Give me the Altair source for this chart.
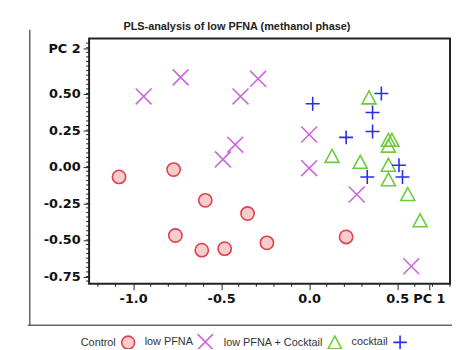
import altair as alt
import pandas as pd

# ---- data ----
groups = ["Control", "low PFNA", "low PFNA + Cocktail", "cocktail"]

control_x = [-1.08, -0.77, -0.59, -0.35, -0.76, -0.61, -0.48, -0.24, 0.21]
control_y = [-0.07, -0.02, -0.23, -0.32, -0.47, -0.57, -0.56, -0.52, -0.48]

pfna_x = [-0.94, -0.73, -0.39, -0.29, -0.42, -0.49, 0.00, 0.00, 0.27, 0.58]
pfna_y = [0.48, 0.61, 0.48, 0.60, 0.15, 0.05, 0.22, -0.01, -0.19, -0.68]

pfna_cocktail_x = [0.34, 0.45, 0.47, 0.45, 0.13, 0.29, 0.45, 0.45, 0.56, 0.63]
pfna_cocktail_y = [0.47, 0.18, 0.18, 0.14, 0.07, 0.03, 0.01, -0.09, -0.19, -0.37]

cocktail_x = [0.41, 0.02, 0.36, 0.36, 0.21, 0.51, 0.33, 0.53]
cocktail_y = [0.50, 0.43, 0.37, 0.24, 0.20, 0.01, -0.07, -0.07]

x_major_ticks = [-1.0, -0.5, 0.0, 0.5]
y_major_ticks = [-0.75, -0.5, -0.25, 0.0, 0.25, 0.5]
x_axis_name_pos = 0.68
y_axis_name_pos = 0.81
x_minor_ticks = [-1.2, -1.1, -0.9, -0.8, -0.7, -0.6, -0.4, -0.3, -0.2, -0.1,
                 0.1, 0.2, 0.3, 0.4, 0.6, 0.7, 0.8]
y_minor_ticks = [i / 32 for i in range(-25, 28)]

title_text = "PLS-analysis of low PFNA (methanol phase)"

# ---- table ----
rows = []
for g, xs, ys in [(groups[0], control_x, control_y),
                  (groups[1], pfna_x, pfna_y),
                  (groups[2], pfna_cocktail_x, pfna_cocktail_y),
                  (groups[3], cocktail_x, cocktail_y)]:
    for a, b in zip(xs, ys):
        rows.append({"pc1": a, "pc2": b, "group": g})
df = pd.DataFrame(rows)

XDOM = [-1.25, 0.8]
YDOM = [-0.8, 0.875]
W, H = 365, 248

stroke_colors = ["#e2404c", "#cc66dd", "#6ccc3a", "#2a2ee0"]
fill_colors = ["#f7cccc", "transparent", "transparent", "transparent"]
shapes = ["circle",
          "M-1.2,-1.2L1.2,1.2M-1.2,1.2L1.2,-1.2",
          "M0,-1.05L1.05,0.9L-1.05,0.9Z",
          "M-1.05,0L1.05,0M0,-1.05L0,1.05"]

x_label_vals = x_major_ticks + [x_axis_name_pos]
y_label_vals = y_major_ticks + [y_axis_name_pos]

xscale = alt.Scale(domain=XDOM, nice=False, zero=False)
yscale = alt.Scale(domain=YDOM, nice=False, zero=False)
xaxis = alt.Axis(values=x_label_vals, title=None, grid=False, domain=False,
                 labelExpr="datum.value > 0.6 ? 'PC 1' : replace(format(datum.value, '.1f'), '\u2212', '-')")
yaxis = alt.Axis(values=y_label_vals, title=None, grid=False, domain=False,
                 labelExpr="datum.value > 0.7 ? 'PC 2' : replace(format(datum.value, '.2f'), '\u2212', '-')")

points = alt.Chart(df).mark_point(size=180, strokeWidth=1.6, opacity=1).encode(
    x=alt.X("pc1:Q", scale=xscale, axis=xaxis),
    y=alt.Y("pc2:Q", scale=yscale, axis=yaxis),
    stroke=alt.Stroke("group:N", scale=alt.Scale(domain=groups, range=stroke_colors)),
    fill=alt.Fill("group:N", scale=alt.Scale(domain=groups, range=fill_colors)),
    shape=alt.Shape("group:N", scale=alt.Scale(domain=groups, range=shapes)),
)

xminor = alt.Chart(pd.DataFrame({"pc1": x_minor_ticks})).mark_rule(color="#222", strokeWidth=1).encode(
    x=alt.X("pc1:Q", scale=xscale, axis=xaxis),
    y=alt.value(H), y2=alt.value(H + 3))

yminor = alt.Chart(pd.DataFrame({"pc2": y_minor_ticks})).mark_rule(color="#222", strokeWidth=1).encode(
    y=alt.Y("pc2:Q", scale=yscale, axis=yaxis),
    x=alt.value(-3), x2=alt.value(0))

one = pd.DataFrame({"a": [0]})
left_line = alt.Chart(one).mark_rule(color="#666", strokeWidth=1.5).encode(
    x=alt.value(-60), y=alt.value(-9), y2=alt.value(290))
bottom_line = alt.Chart(one).mark_rule(color="#666", strokeWidth=1.5).encode(
    x=alt.value(-62), x2=alt.value(367), y=alt.value(290))

chart = alt.layer(points, xminor, yminor, left_line, bottom_line).properties(
    width=W, height=H,
    autosize=alt.AutoSizeParams(type="none"),
    padding={"left": 82, "top": 29, "right": 2, "bottom": 64},
    title=alt.TitleParams(title_text, anchor="middle", dx=-33, dy=21, offset=7,
                          baseline="bottom",
                          font="Liberation Sans", fontSize=11, fontWeight="bold",
                          color="#222"),
).configure_view(
    stroke="#222", strokeWidth=2
).configure_axis(
    labelFont="DejaVu Sans", labelFontSize=13, labelFontWeight="bold",
    labelColor="#111", tickColor="#222", tickSize=6, tickWidth=1, labelPadding=3,
).configure_legend(
    orient="none", legendX=32, legendY=299, direction="horizontal",
    title=None, labelFont="Liberation Sans", labelFontSize=11, labelColor="#333",
    labelAlign="right", labelOffset={"expr": "-20"}, symbolSize=170, symbolStrokeWidth=1.6,
    columnPadding=6, symbolOffset=0,
)

chart.save("out.html", embed_options={"renderer": "svg", "actions": False})
